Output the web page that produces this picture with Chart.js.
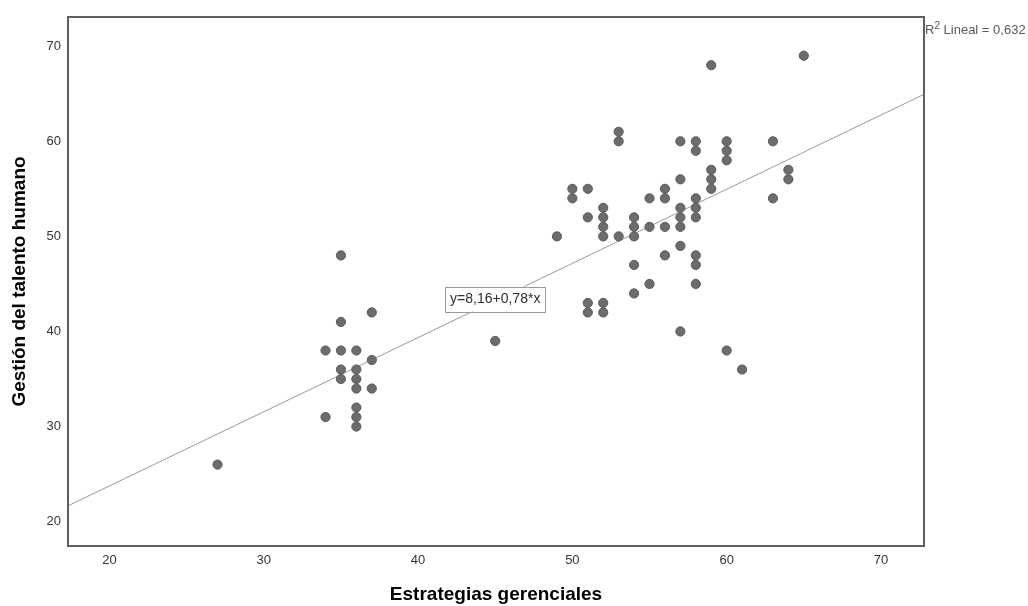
<!DOCTYPE html>
<html>
<head>
<meta charset="utf-8">
<script src="https://cdn.jsdelivr.net/npm/chart.js@4.4.1/dist/chart.umd.min.js"></script>
<style>
  html, body { margin: 0; padding: 0; background: #ffffff; }
  #wrap { width: 1028px; height: 606px; }
</style>
</head>
<body>
<div id="wrap"><canvas id="c" width="1028" height="606"></canvas></div>
<script>
// Estrategias gerenciales (x) vs Gestión del talento humano (y), one entry per respondent
const estrategias = [
  27,
  34, 34,
  35, 35, 35, 35, 35,
  36, 36, 36, 36, 36, 36, 36,
  37, 37, 37,
  45,
  49,
  50, 50,
  51, 51, 51, 51,
  52, 52, 52, 52, 52, 52,
  53, 53, 53,
  54, 54, 54, 54, 54,
  55, 55, 55,
  56, 56, 56, 56,
  57, 57, 57, 57, 57, 57, 57,
  58, 58, 58, 58, 58, 58, 58, 58,
  59, 59, 59, 59,
  60, 60, 60, 60,
  61,
  63, 63,
  64, 64,
  65
];
const talento = [
  26,
  38, 31,
  48, 41, 38, 36, 35,
  38, 36, 35, 34, 32, 31, 30,
  42, 37, 34,
  39,
  50,
  55, 54,
  55, 52, 43, 42,
  53, 52, 51, 50, 43, 42,
  61, 60, 50,
  52, 51, 50, 47, 44,
  54, 51, 45,
  55, 54, 51, 48,
  60, 56, 53, 52, 51, 49, 40,
  60, 59, 54, 53, 52, 48, 47, 45,
  68, 57, 56, 55,
  60, 59, 58, 38,
  36,
  60, 54,
  57, 56,
  69
];

const xTicks = [20, 30, 40, 50, 60, 70];
const yTicks = [20, 30, 40, 50, 60, 70];
const xRange = [17.31, 72.79];
const yRange = [17.44, 73.07];

// Linear fit reported on the chart
const fitIntercept = 8.16;
const fitSlope = 0.78;
const rSquared = 0.632;

const FONT = "'Liberation Sans', Arial, Helvetica, sans-serif";
const fmt = v => v.toFixed(2).replace('.', ',');
const fmt3 = v => v.toFixed(3).replace('.', ',');

const points = estrategias.map((x, i) => ({ x: x, y: talento[i] }));
const fitLine = xRange.map(x => ({ x: x, y: fitIntercept + fitSlope * x }));

// Frame around the plot, the fit equation box and the R² note
const decorations = {
  id: 'decorations',
  afterDraw(chart, args, opts) {
    const { ctx, chartArea: a, scales } = chart;
    ctx.save();

    // plot frame
    ctx.strokeStyle = '#5e5e5e';
    ctx.lineWidth = 2;
    ctx.strokeRect(a.left, a.top, a.right - a.left, a.bottom - a.top);

    // equation box
    const eq = 'y=' + fmt(fitIntercept) + '+' + fmt(fitSlope) + '*x';
    ctx.font = '14px ' + FONT;
    const tw = ctx.measureText(eq).width;
    const cx = scales.x.getPixelForValue(opts.eqAt.x);
    const cy = scales.y.getPixelForValue(opts.eqAt.y);
    const bw = tw + 10, bh = 25;
    ctx.fillStyle = '#ffffff';
    ctx.fillRect(cx - bw / 2, cy - bh / 2, bw, bh);
    ctx.strokeStyle = '#9a9a9a';
    ctx.lineWidth = 1;
    ctx.strokeRect(Math.round(cx - bw / 2) + 0.5, Math.round(cy - bh / 2) + 0.5, Math.round(bw), Math.round(bh));
    ctx.fillStyle = '#2e2e2e';
    ctx.textAlign = 'center';
    ctx.textBaseline = 'middle';
    ctx.fillText(eq, cx, cy + 0.5);

    // R² note at the upper right corner of the frame
    ctx.fillStyle = '#5a5a5a';
    ctx.textAlign = 'left';
    ctx.textBaseline = 'alphabetic';
    let x = a.right + 1;
    const base = a.top + 17;
    ctx.font = '13px ' + FONT;
    ctx.fillText('R', x, base);
    x += ctx.measureText('R').width;
    ctx.font = '10px ' + FONT;
    ctx.fillText('2', x, base - 5);
    x += ctx.measureText('2').width;
    ctx.font = '13px ' + FONT;
    ctx.fillText(' Lineal = ' + fmt3(rSquared), x, base);

    ctx.restore();
  }
};

new Chart(document.getElementById('c'), {
  type: 'scatter',
  data: {
    datasets: [
      {
        label: 'Observado',
        data: points,
        backgroundColor: '#6c6c6c',
        borderColor: '#5a5a5a',
        borderWidth: 1,
        pointRadius: 4.6,
        order: 1
      },
      {
        type: 'line',
        label: 'Lineal',
        data: fitLine,
        borderColor: '#9a9a9a',
        borderWidth: 1,
        pointRadius: 0,
        fill: false,
        tension: 0,
        order: 2
      }
    ]
  },
  options: {
    responsive: false,
    animation: false,
    devicePixelRatio: 1,
    layout: { padding: { top: 17, right: 104, left: 0, bottom: 0 } },
    plugins: {
      legend: { display: false },
      tooltip: { enabled: false },
      decorations: { eqAt: { x: 45, y: 43.4 } }
    },
    scales: {
      x: {
        type: 'linear',
        min: xRange[0],
        max: xRange[1],
        afterBuildTicks: s => { s.ticks = xTicks.map(v => ({ value: v })); },
        afterFit: s => { s.height = 60; },
        grid: { display: false, drawTicks: false },
        border: { display: false },
        ticks: {
          color: '#333333',
          font: { family: FONT, size: 13 },
          padding: 7,
          maxRotation: 0,
          autoSkip: false
        },
        title: {
          display: true,
          text: 'Estrategias gerenciales',
          color: '#000000',
          font: { family: FONT, size: 19, weight: 'bold' },
          padding: { top: 0, bottom: 0 }
        }
      },
      y: {
        type: 'linear',
        min: yRange[0],
        max: yRange[1],
        afterBuildTicks: s => { s.ticks = yTicks.map(v => ({ value: v })); },
        afterFit: s => { s.width = 68; },
        grid: { display: false, drawTicks: false },
        border: { display: false },
        ticks: {
          color: '#333333',
          font: { family: FONT, size: 13 },
          padding: 7,
          autoSkip: false
        },
        title: {
          display: true,
          text: 'Gestión del talento humano',
          color: '#000000',
          font: { family: FONT, size: 19, weight: 'bold' },
          padding: { top: 8, bottom: 0 }
        }
      }
    }
  },
  plugins: [decorations]
});
</script>
</body>
</html>
